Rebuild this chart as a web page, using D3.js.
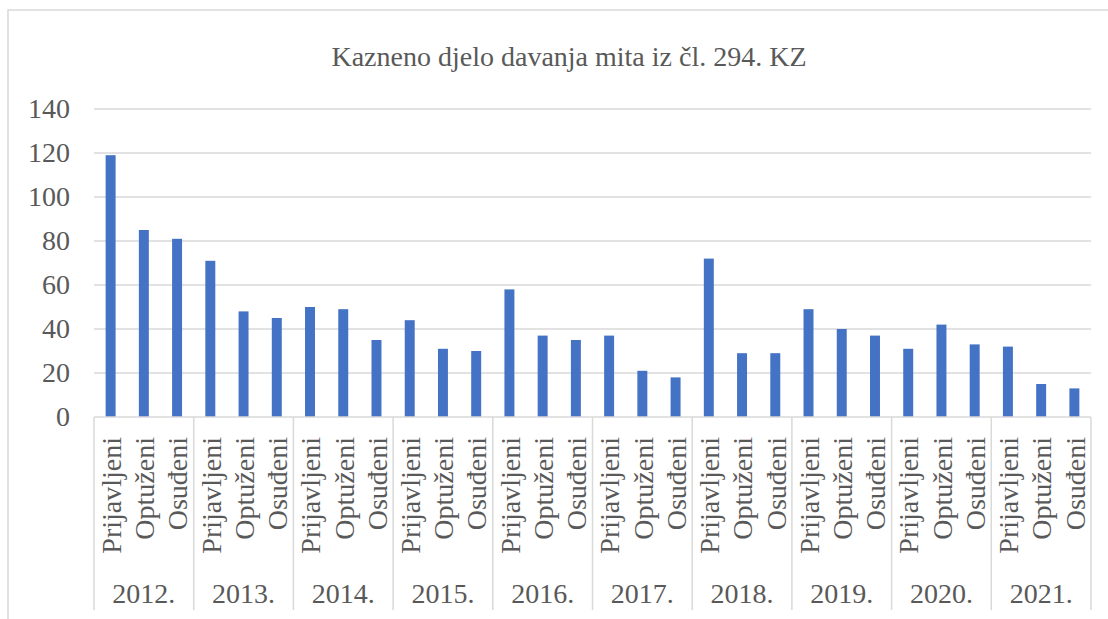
<!DOCTYPE html>
<html>
<head>
<meta charset="utf-8">
<script src="https://cdn.jsdelivr.net/npm/d3@7"></script>
<style>
  body { margin: 0; background: #fff; }
</style>
</head>
<body>
<div class="container"></div>
<script>
const years = ['2012.', '2013.', '2014.', '2015.', '2016.', '2017.', '2018.', '2019.', '2020.', '2021.']
const measures = ['Prijavljeni', 'Optuženi', 'Osuđeni']
const prijavljeni = [119, 71, 50, 44, 58, 37, 72, 49, 31, 32]
const optuzeni = [85, 48, 49, 31, 37, 21, 29, 40, 42, 15]
const osudeni = [81, 45, 35, 30, 35, 18, 29, 37, 33, 13]
const yTicks = [0, 20, 40, 60, 80, 100, 120, 140]

const series = [prijavljeni, optuzeni, osudeni]
const data = []
years.forEach((year, i) => {
    measures.forEach((m, j) => {
        data.push({ key: year + '|' + m, year: year, measure: m, value: series[j][i] })
    })
})

const width = 1108
const height = 619
const plotLeft = 94
const plotRight = 1091
const plotTop = 109
const plotBottom = 417
const serif = "'Times New Roman', Times, 'Liberation Serif', Tinos, 'Nimbus Roman', 'Nimbus Roman No9 L', 'FreeSerif', 'Noto Serif', 'DejaVu Serif', serif"
const textColor = '#595959'

const svg = d3.select('.container')
    .append('svg')
    .attr('width', width)
    .attr('height', height)

// chart frame
svg.append('rect')
    .attr('x', 8)
    .attr('y', 10)
    .attr('width', width + 20)
    .attr('height', height + 20)
    .attr('fill', 'none')
    .attr('stroke', '#d9d9d9')
    .attr('stroke-width', 1.5)

svg.append('text')
    .attr('x', 569)
    .attr('y', 66)
    .attr('text-anchor', 'middle')
    .attr('font-family', serif)
    .attr('font-size', '28px')
    .attr('fill', textColor)
    .text('Kazneno djelo davanja mita iz čl. 294. KZ')

const yScale = d3.scaleLinear()
    .domain([0, 140])
    .range([plotBottom, plotTop])

const yearScale = d3.scaleBand()
    .domain(years)
    .range([plotLeft, plotRight])

const xScale = d3.scaleBand()
    .domain(data.map((d) => d.key))
    .range([plotLeft, plotRight])
    .paddingInner(0.7)
    .paddingOuter(0.35)

// gridlines
svg.append('g')
    .selectAll('line')
    .data(yTicks.filter((t) => t > 0))
    .enter()
    .append('line')
    .attr('x1', plotLeft)
    .attr('x2', plotRight)
    .attr('y1', (d) => yScale(d))
    .attr('y2', (d) => yScale(d))
    .attr('stroke', '#d9d9d9')
    .attr('stroke-width', 1.5)

// y axis labels
const yAxis = svg.append('g')
    .attr('transform', 'translate(70,0)')
    .call(d3.axisLeft(yScale).tickValues(yTicks).tickSize(0).tickPadding(0))
    .attr('font-family', serif)
    .attr('font-size', '28px')
yAxis.select('.domain').remove()
yAxis.selectAll('text')
    .attr('fill', textColor)

svg.append('g')
    .selectAll('rect')
    .data(data)
    .enter()
    .append('rect')
    .attr('x', (d) => xScale(d.key))
    .attr('y', (d) => yScale(d.value))
    .attr('width', xScale.bandwidth())
    .attr('height', (d) => yScale(0) - yScale(d.value))
    .attr('fill', '#4472c4')

// baseline
svg.append('line')
    .attr('x1', plotLeft)
    .attr('x2', plotRight)
    .attr('y1', plotBottom)
    .attr('y2', plotBottom)
    .attr('stroke', '#d9d9d9')
    .attr('stroke-width', 1.5)

// group dividers
svg.append('g')
    .selectAll('line')
    .data(years.map((y) => yearScale(y)).concat([plotRight]))
    .enter()
    .append('line')
    .attr('x1', (d) => d)
    .attr('x2', (d) => d)
    .attr('y1', plotBottom)
    .attr('y2', 610)
    .attr('stroke', '#d9d9d9')
    .attr('stroke-width', 1.5)

// category labels
svg.append('g')
    .attr('font-family', serif)
    .attr('font-size', '28px')
    .attr('fill', textColor)
    .selectAll('text')
    .data(data)
    .enter()
    .append('text')
    .attr('transform', (d) => `translate(${xScale(d.key) + xScale.bandwidth() / 2 + 1}, 437) rotate(-90)`)
    .attr('text-anchor', 'end')
    .attr('dy', '0.33em')
    .text((d) => d.measure)

svg.append('g')
    .attr('font-family', serif)
    .attr('font-size', '28px')
    .attr('fill', textColor)
    .selectAll('text')
    .data(years)
    .enter()
    .append('text')
    .attr('x', (d) => yearScale(d) + yearScale.bandwidth() / 2)
    .attr('y', 603)
    .attr('text-anchor', 'middle')
    .text((d) => d)
</script>
</body>
</html>
